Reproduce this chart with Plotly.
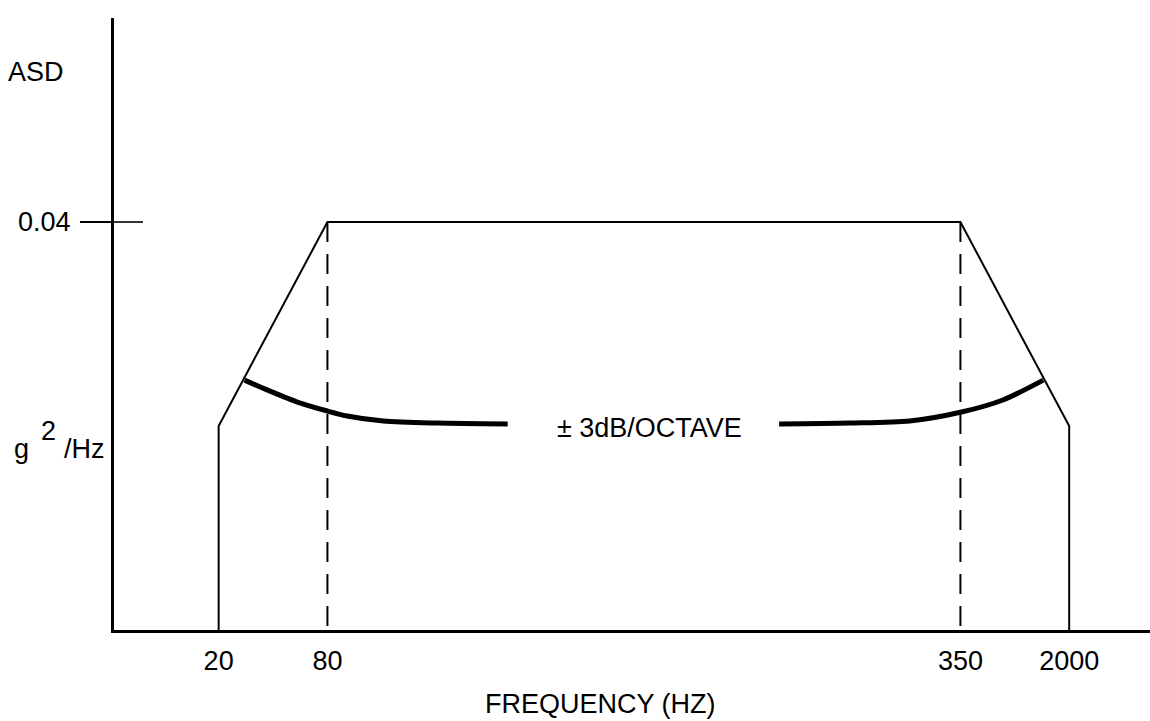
import plotly.graph_objects as go

# ---- data (schematic) ----
freq_labels = ["20", "80", "350", "2000"]
freq_pos = [10.1, 20.6, 81.7, 92.2]          # schematic positions on the frequency axis (0-100)
asd_plateau = 0.04                              # g^2/Hz
asd_corner = 0.02                               # level at 20 Hz and 2000 Hz (schematic)
asd_base = 0.0

# tolerance band (+/- 3 dB/octave) curves
tol_left_x = [12.6, 14.4, 17.7, 20.6, 22.5, 26.0, 31.2, 38.0]
tol_left_y = [0.0245, 0.0237, 0.02235, 0.02147, 0.02098, 0.02049, 0.02029, 0.0202]
tol_right_x = [64.2, 71.0, 76.8, 81.8, 85.8, 89.7]
tol_right_y = [0.0202, 0.02029, 0.02049, 0.02137, 0.02255, 0.0245]

label_pos_x = 51.7
label_text = "± 3dB/OCTAVE"

# ---- layout geometry ----
W, H = 1150, 721
ML, MR, MT, MB = 114, 0, 18, 91
PW, PH = W - ML - MR, H - MT - MB
FONT = "Liberation Sans, Arial, sans-serif"
FS = 27


def px(xp):
    return (xp - ML) / PW


def py(yp):
    return (H - MB - yp) / PH


fig = go.Figure()

# main profile
fig.add_trace(go.Scatter(
    x=[freq_pos[0], freq_pos[0], freq_pos[1], freq_pos[2], freq_pos[3], freq_pos[3]],
    y=[asd_base, asd_corner, asd_plateau, asd_plateau, asd_corner, asd_base],
    mode="lines", line=dict(color="black", width=2), cliponaxis=False,
    hoverinfo="skip", showlegend=False))

# dashed verticals at 80 and 350 Hz
for xi in (freq_pos[1], freq_pos[2]):
    fig.add_trace(go.Scatter(
        x=[xi, xi], y=[asd_plateau, asd_base], mode="lines",
        line=dict(color="black", width=2, dash="20px,12px"),
        hoverinfo="skip", showlegend=False))

# tolerance curves
for xs, ys in ((tol_left_x, tol_left_y), (tol_right_x, tol_right_y)):
    fig.add_trace(go.Scatter(
        x=xs, y=ys, mode="lines",
        line=dict(color="black", width=5, shape="spline", smoothing=0.8),
        hoverinfo="skip", showlegend=False))

tf = dict(size=FS, color="black", family=FONT)
C = dict(showarrow=False, font=tf, xanchor="center", yanchor="middle")
annotations = [
    dict(x=label_pos_x, y=asd_corner - 0.0002, xref="x", yref="y", text=label_text, **C),
    dict(x=px(36), y=py(72), xref="paper", yref="paper", text="ASD", **C),
    dict(x=px(21), y=py(449), xref="paper", yref="paper", text="g", **C),
    dict(x=px(48), y=py(431), xref="paper", yref="paper", text="2", **C),
    dict(x=px(84), y=py(449), xref="paper", yref="paper", text="/Hz", **C),
    dict(x=px(600), y=py(704), xref="paper", yref="paper", text="FREQUENCY (HZ)", **C),
]

shapes = [
    # inside part of the 0.04 tick
    dict(type="line", xref="paper", yref="y", x0=0, x1=px(143), y0=asd_plateau, y1=asd_plateau,
         line=dict(color="black", width=1.6)),
]

fig.update_layout(
    width=W, height=H,
    margin=dict(l=ML, r=MR, t=MT, b=MB, pad=0),
    paper_bgcolor="white", plot_bgcolor="white",
    showlegend=False,
    annotations=annotations,
    shapes=shapes,
    xaxis=dict(range=[0, 100], showgrid=False, zeroline=False,
               showline=True, linecolor="black", linewidth=3,
               tickmode="array", tickvals=freq_pos, ticktext=freq_labels,
               ticks="", ticklabelstandoff=5,
               tickfont=tf, fixedrange=True),
    yaxis=dict(range=[0, 0.06], showgrid=False, zeroline=False,
               showline=True, linecolor="black", linewidth=3,
               tickmode="array", tickvals=[asd_plateau], ticktext=["0.04"],
               ticks="outside", ticklen=31, tickwidth=1.6, tickcolor="black",
               ticklabelstandoff=4,
               tickfont=tf, fixedrange=True),
)

fig.write_html("out.html", config={"displayModeBar": False},
               post_script="document.body.style.margin='0';document.body.style.overflow='hidden';")
